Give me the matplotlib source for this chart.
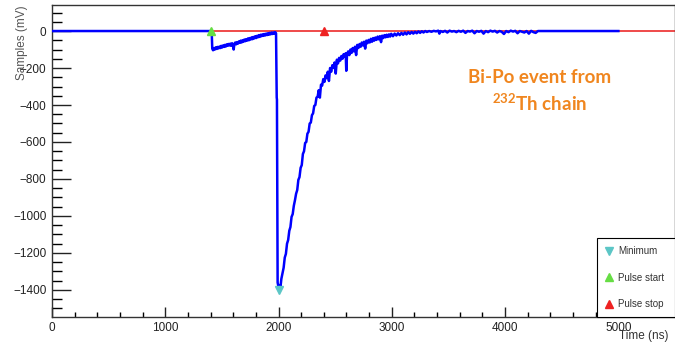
import matplotlib
matplotlib.use("Agg")
import matplotlib.pyplot as plt
from matplotlib.ticker import MultipleLocator

plt.rcParams["font.family"] = ["Liberation Sans", "DejaVu Sans"]
plt.rcParams["mathtext.fontset"] = "custom"
plt.rcParams["mathtext.rm"] = "Lato:bold"

# waveform (time in ns, amplitude in mV)
# flat start, small pre-pulse, big pulse, tail
time_ns = [0, 1408, 1410, 1415, 1422, 1430, 1438, 1446, 1454, 1462, 1470, 1478, 1486,
           1494, 1502, 1510, 1518, 1526, 1534, 1542, 1550, 1558, 1566, 1574, 1582,
           1590, 1598, 1604, 1610, 1618, 1626, 1634, 1642, 1650, 1658, 1666, 1674,
           1682, 1690, 1698, 1706, 1714, 1722, 1730, 1738, 1746, 1754, 1762, 1770,
           1778, 1786, 1794, 1802, 1810, 1818, 1826, 1834, 1842, 1850, 1858, 1866,
           1874, 1882, 1890, 1898, 1906, 1914, 1922, 1930, 1938, 1946, 1954, 1962,
           1970, 1978,
           1984, 1986, 1992, 2000, 2010, 2018,
           2025, 2035, 2045, 2055, 2065, 2075, 2085, 2095, 2105, 2115, 2125, 2135,
           2145, 2155, 2165, 2175, 2185, 2195, 2205, 2215, 2225, 2235, 2245, 2255,
           2265, 2275, 2285, 2295, 2305, 2315, 2325, 2335, 2345, 2355, 2365, 2375,
           2385, 2395, 2405, 2415, 2425, 2435, 2445, 2455, 2465, 2475, 2485, 2495,
           2505, 2515, 2525, 2535, 2545, 2555, 2565, 2575, 2585, 2593, 2598, 2605,
           2615, 2625, 2635, 2645, 2655, 2665, 2675, 2685, 2695, 2705, 2715, 2725,
           2735, 2745, 2755, 2765, 2775, 2785, 2795, 2805, 2815, 2825, 2835, 2845,
           2855, 2865, 2875, 2885, 2895, 2905, 2915, 2925, 2935, 2945, 2955, 2965,
           2975, 2985, 2995, 3010, 3025, 3040, 3055, 3070, 3085, 3100, 3115, 3130,
           3145, 3160, 3175, 3190, 3205, 3220, 3235, 3250, 3265, 3280, 3295, 3310,
           3330, 3350, 3370, 3390, 3410, 3420, 3430, 3450, 3470, 3490, 3510, 3530,
           3550, 3570, 3590, 3610, 3630, 3650, 3670, 3690, 3710, 3730, 3750, 3770,
           3790, 3810, 3830, 3850, 3870, 3890, 3910, 3930, 3950, 3970, 3990, 4010,
           4030, 4050, 4070, 4090, 4110, 4130, 4150, 4170, 4190, 4210, 4230, 4250,
           4270, 4290, 5000]
amp_mv = [0, 0, -5, -95, -104, -92, -100, -88, -97, -86, -94, -84, -92,
          -80, -89, -78, -86, -75, -84, -72, -80, -70, -78, -68, -80,
          -66, -74, -100, -70, -62, -72, -60, -68, -56, -64, -52, -62,
          -50, -58, -46, -55, -44, -52, -40, -50, -38, -46, -34, -44,
          -32, -40, -28, -38, -26, -34, -22, -32, -20, -28, -18, -26,
          -16, -24, -14, -22, -12, -20, -10, -18, -8, -16, -8, -14,
          -6, -12,
          -360, -370, -1360, -1385, -1375, -1380,
          -1340, -1310, -1280, -1225, -1205, -1150, -1130, -1080, -1060, -1005, -990, -945,
          -915, -880, -860, -805, -790, -740, -725, -665, -650, -605, -600, -555,
          -545, -500, -495, -455, -445, -405, -400, -360, -355, -320, -360, -290,
          -295, -260, -275, -240, -255, -220, -270, -200, -220, -185, -200, -170,
          -230, -155, -175, -145, -160, -135, -150, -125, -140, -120, -215, -125,
          -110, -130, -100, -118, -92, -110, -85, -130, -75, -92, -70, -85,
          -62, -78, -58, -95, -52, -66, -48, -62, -42, -58, -38, -52,
          -35, -48, -30, -45, -28, -60, -25, -38, -22, -34, -20, -32,
          -18, -30, -15, -28, -14, -24, -12, -22, -10, -20, -8, -18,
          -6, -15, -5, -14, -4, -12, -2, -10, -1, -8, 0, -5,
          0, -4, 1, -2, 2, -14, 0, -5, 1, -8, 2, -3,
          0, -6, 1, -4, 2, -10, 0, -3, 2, -12, 0, -4,
          1, -14, 0, -6, 2, -3, 1, -8, 0, -4, -16, 0,
          -6, 2, -3, 1, -12, 0, -4, -8, 0, -14, 1, -6,
          -10, 0, 0]

baseline_t = [0, 5600]
baseline_v = [0, 0]

min_t, min_v = 2000, -1400
start_t, start_v = 1400, 0
stop_t, stop_v = 2400, 0

fig = plt.figure(figsize=(6.75, 3.43), dpi=100)
ax = fig.add_axes([0.077, 0.076, 0.923, 0.909])

ax.plot(baseline_t, baseline_v, color="#ee3b3b", lw=1.3, zorder=2)
ax.plot(time_ns, amp_mv, color="#0000ff", lw=1.8, zorder=3)

ax.plot(min_t, min_v, "v", color="#5cc6c6", ms=6, ls="none", label="Minimum", zorder=4)
ax.plot(start_t, start_v, "^", color="#66dd44", ms=6, ls="none", label="Pulse start", zorder=4)
ax.plot(stop_t, stop_v, "^", color="#ee2222", ms=6, ls="none", label="Pulse stop", zorder=4)

ax.set_xlim(0, 5500)
ax.set_ylim(-1546, 140)

ax.xaxis.set_major_locator(MultipleLocator(1000))
ax.xaxis.set_minor_locator(MultipleLocator(200))
ax.yaxis.set_major_locator(MultipleLocator(200))
ax.yaxis.set_minor_locator(MultipleLocator(50))
ax.tick_params(axis="y", which="major", direction="in", length=14, width=1, labelsize=8.5, pad=4)
ax.tick_params(axis="y", which="minor", direction="in", length=7, width=1)
ax.tick_params(axis="x", which="major", direction="in", length=7, width=1, labelsize=8.5, pad=4)
ax.tick_params(axis="x", which="minor", direction="in", length=3.5, width=1)
ax.tick_params(colors="#222222")
for s in ax.spines.values():
    s.set_linewidth(1)
    s.set_color("#333333")

fig.text(0.033, 0.985, "Samples (mV)", rotation=90, ha="center", va="top",
         fontsize=8.5, color="#555555")
fig.text(0.99, 0.003, "Time (ns)", ha="right", va="bottom", fontsize=8.5, color="#333333")

ax.text(0.8, 0.773, "Bi-Po event from", transform=fig.transFigure, ha="center", va="center",
        fontsize=13.5, fontweight="bold", family="Lato", color="#f0861f")
ax.text(0.8, 0.70, "$^{232}$Th chain", transform=fig.transFigure, ha="center", va="center",
        fontsize=13.5, fontweight="bold", family="Lato", color="#f0861f")

leg = ax.legend(loc="lower left", bbox_to_anchor=(0.884, 0.076, 0.116, 0.216),
                bbox_transform=fig.transFigure, mode="expand", borderaxespad=0,
                fontsize=7, handlelength=1.0, handletextpad=0.4, labelspacing=1.7,
                borderpad=0.8, fancybox=False, framealpha=1)
leg.get_frame().set_edgecolor("black")
leg.get_frame().set_linewidth(0.8)
for t in leg.get_texts():
    t.set_color("#333333")

fig.savefig("out.png", dpi=100)
